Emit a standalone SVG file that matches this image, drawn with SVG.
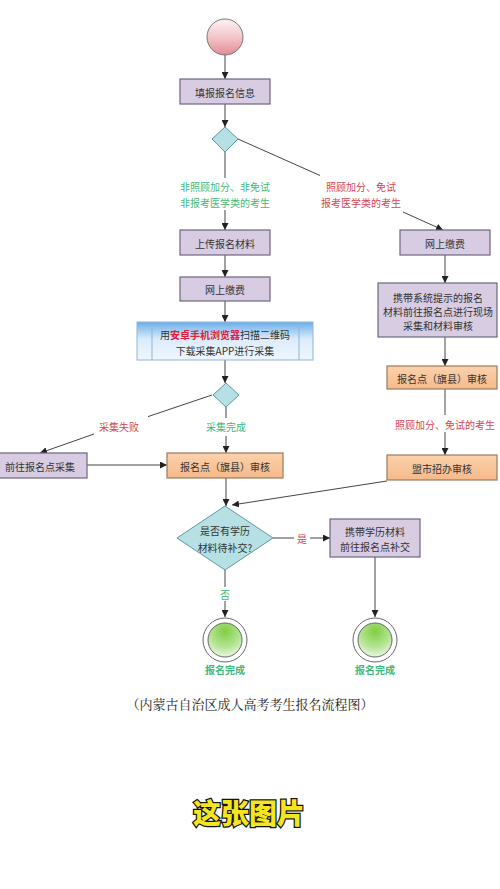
<svg xmlns="http://www.w3.org/2000/svg" width="500" height="889" viewBox="0 0 500 889">
<defs>
<linearGradient id="gStart" x1="0" y1="0" x2="0" y2="1">
<stop offset="0" stop-color="#fdf2f3"/><stop offset="0.5" stop-color="#f3c6cb"/><stop offset="1" stop-color="#e48a95"/>
</linearGradient>
<radialGradient id="gEnd" cx="50%" cy="25%" r="80%">
<stop offset="0" stop-color="#7fcf3f"/><stop offset="0.6" stop-color="#b8e59a"/><stop offset="1" stop-color="#f4fbef"/>
</radialGradient>
<linearGradient id="gBlue" x1="0" y1="0" x2="0" y2="1">
<stop offset="0" stop-color="#6aaee8"/><stop offset="0.45" stop-color="#dcecfb"/><stop offset="1" stop-color="#eef6fd"/>
</linearGradient>
<linearGradient id="gOrange" x1="0" y1="0" x2="0" y2="1">
<stop offset="0" stop-color="#fbd2ad"/><stop offset="1" stop-color="#f6b98a"/>
</linearGradient>
<marker id="arr" viewBox="0 0 10 10" refX="10" refY="5" markerWidth="7" markerHeight="7" orient="auto" markerUnits="userSpaceOnUse">
<path d="M0,0 L10,5 L0,10 z" fill="#222"/>
</marker>
</defs>
<style>
text{font-family:"Noto Sans CJK SC","Noto Sans",sans-serif;font-size:10px;text-anchor:middle;dominant-baseline:central}
.box{fill:#d8cce3;stroke:#6f6480;stroke-width:1.2}
.org{fill:url(#gOrange);stroke:#9c7a5c;stroke-width:1.2}
.dia{fill:#b6e0e4;stroke:#5a9aa3;stroke-width:1}
.t{fill:#333}
.g{fill:#3fb97a}
.r{fill:#d8434f}
.ln{stroke:#444;stroke-width:1;fill:none}
.a{marker-end:url(#arr)}
</style>
<rect width="500" height="889" fill="#fff"/>

<g id="connectors">
<line class="ln a" x1="225" y1="55" x2="225" y2="79"/>
<line class="ln a" x1="225" y1="104" x2="225" y2="127"/>
<line class="ln" x1="225" y1="152" x2="225" y2="178"/>
<line class="ln a" x1="225" y1="210" x2="225" y2="230"/>
<line class="ln" x1="238" y1="139" x2="320" y2="175.5"/>
<line class="ln a" x1="403" y1="212" x2="443" y2="230"/>
<line class="ln a" x1="225" y1="255" x2="225" y2="277"/>
<line class="ln a" x1="225" y1="301" x2="225" y2="322"/>
<line class="ln a" x1="225" y1="360" x2="225" y2="383"/>
<line class="ln" x1="212" y1="395" x2="148" y2="416.6"/>
<line class="ln a" x1="94" y1="434" x2="40" y2="453"/>
<line class="ln" x1="226" y1="407" x2="226" y2="418"/>
<line class="ln a" x1="226" y1="436" x2="226" y2="453"/>
<line class="ln a" x1="87" y1="465" x2="167" y2="465"/>
<line class="ln a" x1="445" y1="255" x2="445" y2="283"/>
<line class="ln a" x1="445" y1="337" x2="445" y2="366"/>
<line class="ln" x1="445" y1="389" x2="445" y2="415"/>
<line class="ln a" x1="445" y1="432" x2="445" y2="455"/>
<line class="ln a" x1="226" y1="478" x2="226" y2="506"/>
<line class="ln a" x1="387" y1="481" x2="232" y2="505"/>
<line class="ln" x1="273" y1="538" x2="294" y2="538"/>
<line class="ln a" x1="310" y1="538" x2="330" y2="538"/>
<line class="ln" x1="225" y1="570" x2="225" y2="587"/>
<line class="ln a" x1="225" y1="601" x2="225" y2="617"/>
<line class="ln a" x1="375" y1="557" x2="375" y2="617"/>
</g>

<g id="start"><circle cx="225" cy="37" r="18" fill="url(#gStart)" stroke="#777" stroke-width="1"/></g>

<g id="n_fill"><rect class="box" x="180" y="79" width="90" height="25"/><text class="t" x="225" y="92">填报报名信息</text></g>

<g id="d1"><polygon class="dia" points="225,127 238,139 225,152 212,139"/></g>

<g id="lbl_left"><text class="g" x="225" y="186">非照顾加分、非免试</text><text class="g" x="225" y="202">非报考医学类的考生</text></g>
<g id="lbl_right"><text class="r" x="361" y="186">照顾加分、免试</text><text class="r" x="361" y="202">报考医学类的考生</text></g>

<g id="n_upload"><rect class="box" x="180" y="230" width="90" height="25"/><text class="t" x="225" y="243">上传报名材料</text></g>
<g id="n_pay1"><rect class="box" x="180" y="277" width="90" height="24"/><text class="t" x="225" y="289">网上缴费</text></g>

<g id="n_scan">
<rect x="137" y="322" width="176" height="38" fill="url(#gBlue)" stroke="#8fb5d8" stroke-width="1"/>
<line x1="152" y1="322" x2="152" y2="360" stroke="#8fb5d8"/>
<line x1="299" y1="322" x2="299" y2="360" stroke="#8fb5d8"/>
<text class="t" x="225" y="334">用<tspan fill="#e0203a" font-weight="bold">安卓手机浏览器</tspan>扫描二维码</text>
<text class="t" x="225" y="350">下载采集APP进行采集</text>
</g>

<g id="d2"><polygon class="dia" points="226,383 239,395 226,407 213,395"/></g>
<g id="lbl_fail"><text class="r" x="119" y="426">采集失败</text></g>
<g id="lbl_done"><text class="g" x="226" y="426">采集完成</text></g>

<g id="n_goto"><rect class="box" x="-8" y="453" width="95" height="25"/><text class="t" x="40" y="466">前往报名点采集</text></g>
<g id="n_check1"><rect class="org" x="167" y="453" width="116" height="25"/><text class="t" x="225" y="466">报名点（旗县）审核</text></g>

<g id="n_pay2"><rect class="box" x="400" y="230" width="90" height="25"/><text class="t" x="445" y="243">网上缴费</text></g>
<g id="n_carry"><rect class="box" x="378" y="283" width="119" height="54"/>
<text class="t" x="438" y="297">携带系统提示的报名</text>
<text class="t" x="438" y="311">材料前往报名点进行现场</text>
<text class="t" x="438" y="325">采集和材料审核</text></g>
<g id="n_check2"><rect class="org" x="387" y="366" width="110" height="23"/><text class="t" x="442" y="378">报名点（旗县）审核</text></g>
<g id="lbl_bonus"><text class="r" x="445" y="424">照顾加分、免试的考生</text></g>
<g id="n_city"><rect class="org" x="387" y="455" width="110" height="25"/><text class="t" x="442" y="468">盟市招办审核</text></g>

<g id="d3"><polygon class="dia" points="225,506 273,538 225,570 177,538"/>
<text class="t" x="225" y="530">是否有学历</text><text class="t" x="225" y="547">材料待补交?</text></g>
<g id="lbl_yes"><text class="r" x="302" y="538">是</text></g>
<g id="lbl_no"><text class="g" x="225" y="594">否</text></g>

<g id="n_supp"><rect class="box" x="330" y="519" width="90" height="38"/>
<text class="t" x="375" y="531">携带学历材料</text><text class="t" x="375" y="546">前往报名点补交</text></g>

<g id="end1"><circle cx="225" cy="640" r="22" fill="#fff" stroke="#666" stroke-width="1"/><circle cx="225" cy="640" r="17" fill="url(#gEnd)" stroke="#666" stroke-width="1"/>
<text class="g" x="225" y="669" font-weight="bold">报名完成</text></g>
<g id="end2"><circle cx="375" cy="640" r="22" fill="#fff" stroke="#666" stroke-width="1"/><circle cx="375" cy="640" r="17" fill="url(#gEnd)" stroke="#666" stroke-width="1"/>
<text class="g" x="375" y="669" font-weight="bold">报名完成</text></g>

<text x="250" y="703" style="font-size:13px;fill:#222;font-family:'Noto Serif CJK SC','Noto Sans CJK SC',serif">（内蒙古自治区成人高考考生报名流程图）</text>

<text x="249" y="812" style="font-size:28px;font-weight:900;fill:#f4e61e;stroke:#111;stroke-width:2.5px;paint-order:stroke;font-family:'Noto Sans CJK SC',sans-serif">这张图片</text>
</svg>
